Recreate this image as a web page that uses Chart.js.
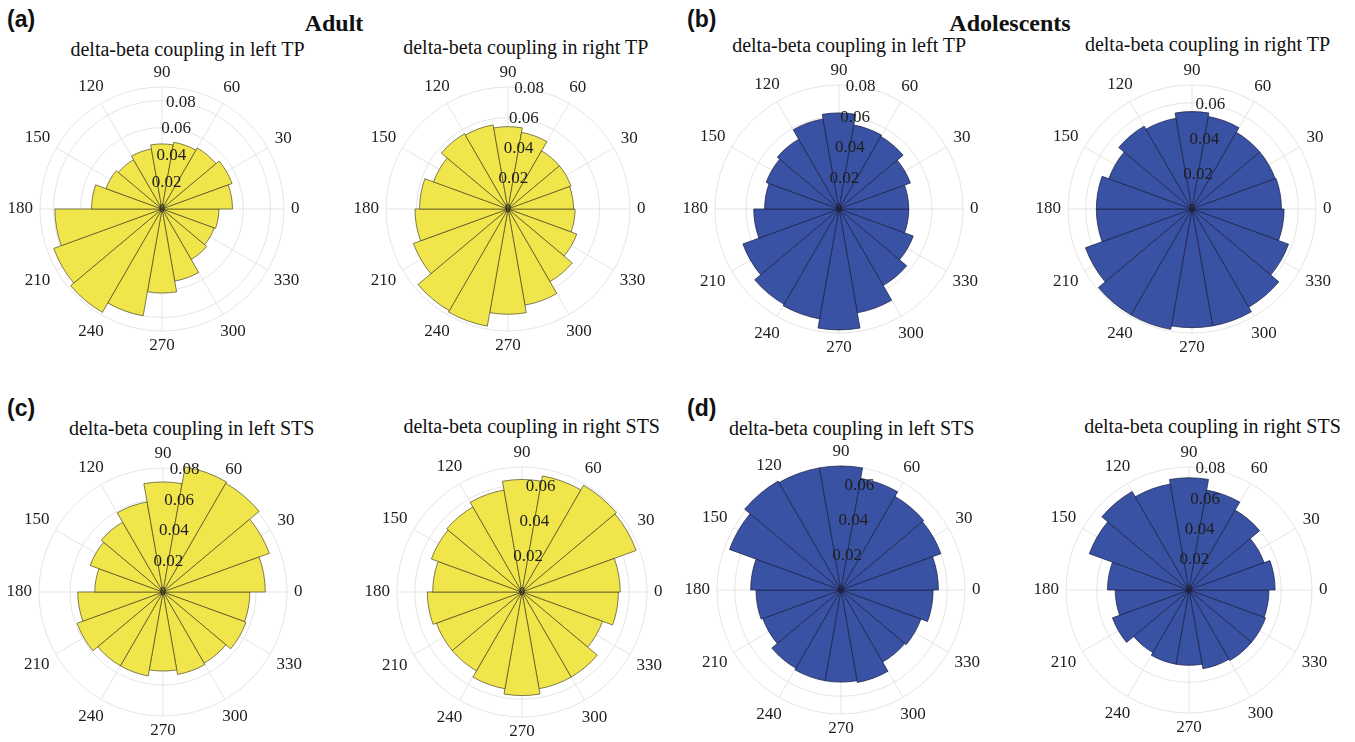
<!DOCTYPE html>
<html>
<head>
<meta charset="utf-8">
<script src="https://cdn.jsdelivr.net/npm/chart.js@4.4.1/dist/chart.umd.min.js"></script>
<style>
  html, body { margin: 0; padding: 0; background: #fff; }
  body { width: 1355px; height: 742px; position: relative; overflow: hidden; }
  canvas.rose { position: absolute; }
  .title { position: absolute; font: 20px/20px "Liberation Serif", serif; color: #111; white-space: nowrap; transform: translateX(-50%); }
  .group { position: absolute; font: bold 24px/24px "Liberation Serif", serif; color: #111; white-space: nowrap; transform: translateX(-50%); }
  .tag { position: absolute; font: bold 23px/23px "Liberation Sans", sans-serif; color: #111; }
</style>
</head>
<body>
<div class="tag" style="left:7px;top:8px">(a)</div>
<div class="tag" style="left:687px;top:8px">(b)</div>
<div class="tag" style="left:7px;top:397px">(c)</div>
<div class="tag" style="left:687px;top:397px">(d)</div>
<div class="group" style="left:334px;top:11px">Adult</div>
<div class="group" style="left:1010px;top:11px">Adolescents</div>

<script>
// Phase bins of the polar histograms (degrees, counter-clockwise from east)
const binLabels = ['0-20', '20-40', '40-60', '60-80', '80-100', '100-120', '120-140', '140-160', '160-180',
                   '180-200', '200-220', '220-240', '240-260', '260-280', '280-300', '300-320', '320-340', '340-360'];
// Angular tick labels
const angleTicks = [0, 30, 60, 90, 120, 150, 180, 210, 240, 270, 300, 330];
// Radial tick step
const radialStep = 0.02;

// Probability per phase bin, listed in bin order
const adultLeftTP    = [0.052, 0.055, 0.052, 0.050, 0.048, 0.045, 0.042, 0.044, 0.052, 0.079, 0.085, 0.088, 0.080, 0.062, 0.054, 0.043, 0.041, 0.042];
const adultRightTP   = [0.043, 0.044, 0.044, 0.051, 0.054, 0.056, 0.057, 0.052, 0.058, 0.061, 0.066, 0.077, 0.078, 0.069, 0.064, 0.055, 0.048, 0.044];
const adolLeftTP     = [0.045, 0.049, 0.054, 0.055, 0.062, 0.059, 0.052, 0.050, 0.048, 0.055, 0.066, 0.071, 0.072, 0.078, 0.068, 0.057, 0.051, 0.045];
const adolRightTP    = [0.0505, 0.050, 0.050, 0.053, 0.055, 0.052, 0.054, 0.050, 0.054, 0.054, 0.064, 0.069, 0.069, 0.067, 0.067, 0.064, 0.058, 0.052];
const adultLeftSTS   = [0.066, 0.073, 0.081, 0.082, 0.071, 0.059, 0.052, 0.050, 0.044, 0.055, 0.059, 0.055, 0.055, 0.051, 0.054, 0.053, 0.057, 0.056];
const adultRightSTS  = [0.055, 0.068, 0.069, 0.066, 0.063, 0.058, 0.055, 0.054, 0.050, 0.053, 0.051, 0.051, 0.055, 0.058, 0.055, 0.055, 0.048, 0.054];
const adolLeftSTS    = [0.055, 0.060, 0.061, 0.064, 0.070, 0.070, 0.071, 0.067, 0.051, 0.048, 0.047, 0.051, 0.052, 0.052, 0.053, 0.047, 0.048, 0.052];
const adolRightSTS   = [0.056, 0.052, 0.060, 0.066, 0.073, 0.070, 0.074, 0.069, 0.053, 0.048, 0.053, 0.047, 0.049, 0.049, 0.052, 0.053, 0.053, 0.052];

// Radial limits of each panel
const rLimits = [0.09, 0.08, 0.08, 0.07, 0.08, 0.07, 0.07, 0.08];

const YELLOW = { fill: 'rgb(241,229,76)', edge: 'rgba(70,66,30,0.85)' };
const BLUE   = { fill: 'rgb(58,82,163)',  edge: 'rgba(25,30,70,0.9)' };
const GRID = '#dedede';
const TEXT = '#1e1e1e';

// Panel placement: polar centre, radius (px) and title anchor
const CANVAS = 340;
const panels = [
  { data: adultLeftTP,   rMax: rLimits[0], title: 'delta-beta coupling in left TP',   col: YELLOW, cx: 162,  cy: 209, R: 122, tx: 187.5,  tb: 56 },
  { data: adultRightTP,  rMax: rLimits[1], title: 'delta-beta coupling in right TP',  col: YELLOW, cx: 508,  cy: 209, R: 122, tx: 525.8,  tb: 54 },
  { data: adolLeftTP,    rMax: rLimits[2], title: 'delta-beta coupling in left TP',   col: BLUE,   cx: 839,  cy: 209, R: 124, tx: 849.2,  tb: 52 },
  { data: adolRightTP,   rMax: rLimits[3], title: 'delta-beta coupling in right TP',  col: BLUE,   cx: 1192, cy: 209, R: 124, tx: 1207.5, tb: 51 },
  { data: adultLeftSTS,  rMax: rLimits[4], title: 'delta-beta coupling in left STS',  col: YELLOW, cx: 163,  cy: 592, R: 124, tx: 191.7,  tb: 435 },
  { data: adultRightSTS, rMax: rLimits[5], title: 'delta-beta coupling in right STS', col: YELLOW, cx: 522,  cy: 592, R: 125, tx: 531.7,  tb: 433 },
  { data: adolLeftSTS,   rMax: rLimits[6], title: 'delta-beta coupling in left STS',  col: BLUE,   cx: 841,  cy: 590, R: 124, tx: 851.7,  tb: 435 },
  { data: adolRightSTS,  rMax: rLimits[7], title: 'delta-beta coupling in right STS', col: BLUE,   cx: 1189, cy: 590, R: 123, tx: 1212.5, tb: 433 }
];

// Labelled radial ticks (multiples of the step up to the limit)
function labelledTicks(rMax) {
  const out = [];
  for (let k = 1; k * radialStep <= rMax + 1e-9; k++) out.push(+(k * radialStep).toFixed(2));
  return out;
}
// Ring values: centre, labelled ticks and the outer limit
function ringValues(rMax) {
  const v = [0].concat(labelledTicks(rMax));
  if (Math.abs(v[v.length - 1] - rMax) > 1e-9) v.push(rMax);
  return v;
}

const rad = d => d * Math.PI / 180;

// Spokes under the bars, angle and radius labels over them
const polarDecor = {
  id: 'polarDecor',
  beforeDatasetsDraw(chart) {
    const s = chart.scales.r, ctx = chart.ctx, R = s.drawingArea;
    ctx.save();
    ctx.strokeStyle = GRID;
    ctx.lineWidth = 0.8;
    angleTicks.forEach(a => {
      ctx.beginPath();
      ctx.moveTo(s.xCenter, s.yCenter);
      ctx.lineTo(s.xCenter + R * Math.cos(rad(a)), s.yCenter - R * Math.sin(rad(a)));
      ctx.stroke();
    });
    ctx.restore();
  },
  afterDatasetsDraw(chart, args, opts) {
    const s = chart.scales.r, ctx = chart.ctx, R = s.drawingArea;
    ctx.save();
    ctx.fillStyle = TEXT;
    ctx.textAlign = 'center';
    ctx.textBaseline = 'middle';
    ctx.font = '17px "Liberation Serif", serif';
    // angular labels outside the outer ring
    angleTicks.forEach(a => {
      const t = String(a);
      const w = ctx.measureText(t).width, h = 15;
      const c = Math.cos(rad(a)), sn = Math.sin(rad(a));
      const off = R + 7 + Math.abs(c) * w / 2 + Math.abs(sn) * h / 2;
      ctx.fillText(t, s.xCenter + off * c, s.yCenter - off * sn);
    });
    // radial labels along the 80 degree direction
    const ra = rad(80);
    labelledTicks(opts.rMax).forEach(v => {
      const d = s.getDistanceFromCenterForValue(v);
      ctx.fillText(v.toFixed(2), s.xCenter + d * Math.cos(ra), s.yCenter - d * Math.sin(ra));
    });
    ctx.font = '12px "Liberation Serif", serif';
    ctx.fillText('0', s.xCenter, s.yCenter);
    ctx.restore();
  }
};

panels.forEach(p => {
  const title = document.createElement('div');
  title.className = 'title';
  title.textContent = p.title;
  title.style.left = p.tx + 'px';
  title.style.top = (p.tb - 16.75) + 'px';
  document.body.appendChild(title);

  const cv = document.createElement('canvas');
  cv.className = 'rose';
  cv.width = CANVAS; cv.height = CANVAS;
  cv.style.left = (p.cx - CANVAS / 2) + 'px';
  cv.style.top = (p.cy - CANVAS / 2) + 'px';
  document.body.appendChild(cv);

  // Chart.js sweeps clockwise from east, bins run counter-clockwise: reverse the order
  const labels = binLabels.slice().reverse();
  const values = p.data.slice().reverse();

  new Chart(cv.getContext('2d'), {
    type: 'polarArea',
    data: {
      labels: labels,
      datasets: [{
        data: values,
        backgroundColor: p.col.fill,
        borderColor: p.col.edge,
        borderWidth: 0.8
      }]
    },
    options: {
      responsive: false,
      animation: false,
      devicePixelRatio: 1,
      layout: { padding: CANVAS / 2 - p.R },
      plugins: {
        legend: { display: false },
        tooltip: { enabled: false },
        polarDecor: { rMax: p.rMax }
      },
      scales: {
        r: {
          min: 0,
          max: p.rMax,
          startAngle: 90,
          afterBuildTicks(scale) { scale.ticks = ringValues(p.rMax).map(v => ({ value: v })); },
          ticks: { display: false },
          pointLabels: { display: false },
          angleLines: { display: false },
          grid: { circular: true, color: GRID, lineWidth: 0.8 }
        }
      }
    },
    plugins: [polarDecor]
  });
});
</script>
</body>
</html>
